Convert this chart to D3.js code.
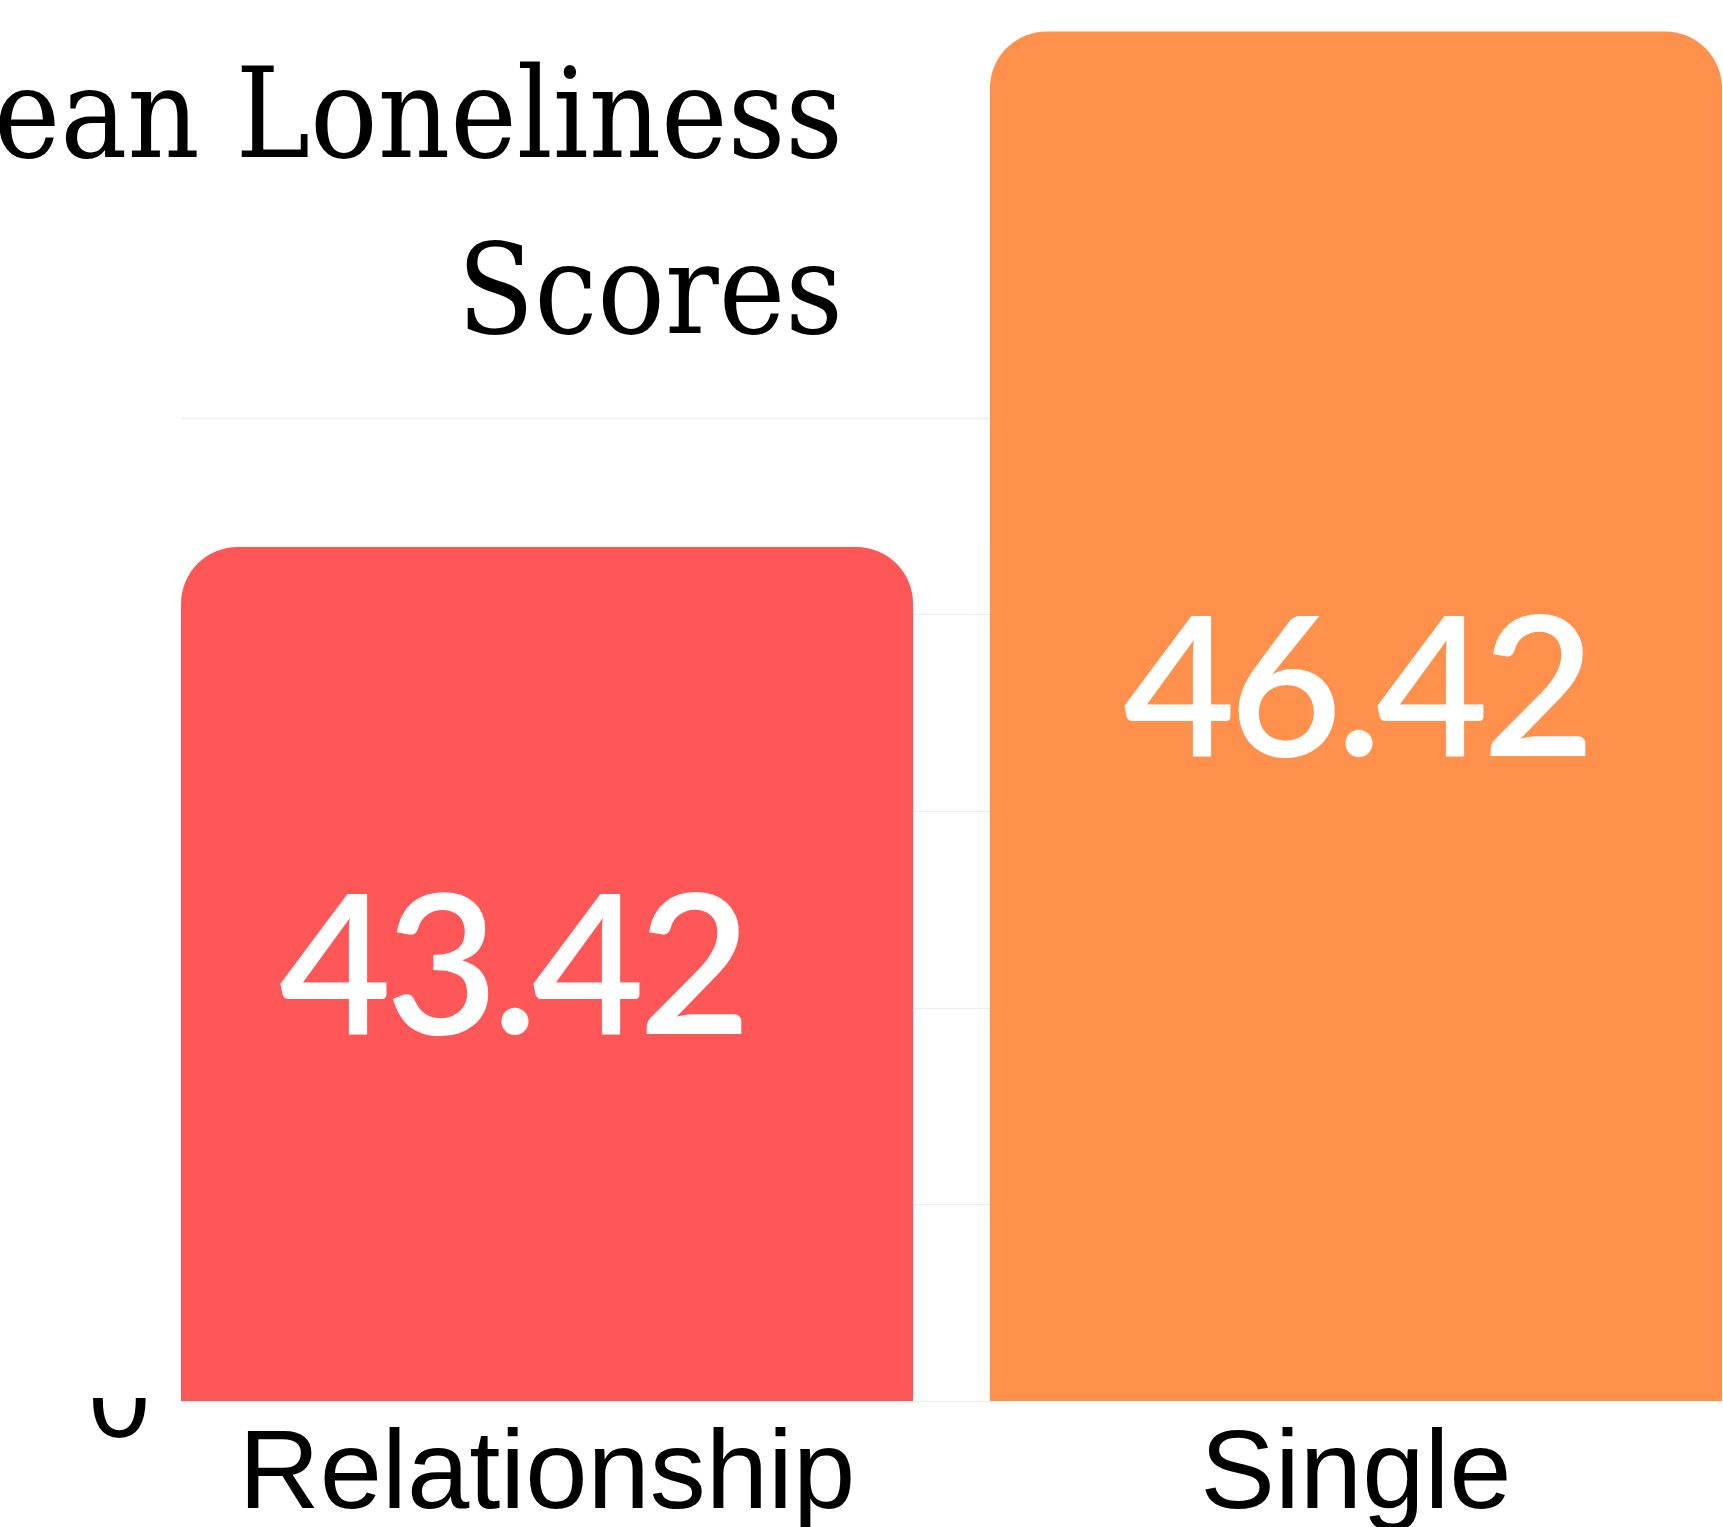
<!DOCTYPE html>
<html>
<head>
<meta charset="utf-8">
<script src="https://cdn.jsdelivr.net/npm/d3@7"></script>
<style>
  html, body { margin: 0; padding: 0; background: #fff; overflow: hidden; }
  svg { display: block; }
</style>
</head>
<body>
<div id="chart"></div>
<script>
// data
var categories = ["Relationship", "Single"];
var scores = [43.42, 46.42];
var barColors = ["#ff5757", "#ff914d"];
var yTicks = [0, 10, 20, 30, 40, 50];
var titleLines = ["Mean Loneliness", "Scores"];

// the "Single" bar is caught in its hover state, grown upward
var highlighted = "Single";
var hoverGrow = 1.5;

var width = 1723,
  height = 1527,
  plotLeft = 181,
  plotRight = 1722,
  baseY = 1401,
  topY = 417.5,
  radius = 57;

// small hand nudges for the value labels (dx, dy from bar middle)
var labelNudge = { Relationship: [-35, 60], Single: [0, 40] };

var svg = d3.select("#chart")
  .append("svg")
  .attr("width", width)
  .attr("height", height);

var x = d3.scaleBand()
  .domain(categories)
  .range([plotLeft, plotRight])
  .paddingInner(0.095)
  .paddingOuter(0);

var y = d3.scaleLinear()
  .domain([0, 50])
  .range([baseY, topY]);

var rows = categories.map(function(c, i) {
  return { cat: c, val: scores[i], color: barColors[i] };
});

// top-rounded bar path
function barPath(x0, w, yTop, yBot, r) {
  r = Math.min(r, w / 2, yBot - yTop);
  return "M" + x0 + "," + yBot +
    "V" + (yTop + r) +
    "A" + r + "," + r + " 0 0 1 " + (x0 + r) + "," + yTop +
    "H" + (x0 + w - r) +
    "A" + r + "," + r + " 0 0 1 " + (x0 + w) + "," + (yTop + r) +
    "V" + yBot + "Z";
}

// y axis, only the tick labels
var yAxis = svg.append("g")
  .attr("transform", "translate(" + plotLeft + ",0)")
  .call(d3.axisLeft(y).tickValues(yTicks).tickSize(0).tickPadding(31));
yAxis.select(".domain").remove();
yAxis.selectAll("text")
  .style("font-family", "'Liberation Sans', Arial, sans-serif")
  .style("font-size", "110px")
  .style("fill", "#000");

// gridlines
svg.append("g")
  .selectAll("line")
  .data(yTicks)
  .enter()
  .append("line")
  .attr("x1", plotLeft)
  .attr("x2", plotRight)
  .attr("y1", function(d) { return Math.round(y(d)) + 0.5; })
  .attr("y2", function(d) { return Math.round(y(d)) + 0.5; })
  .style("stroke", "#eeeeee")
  .style("stroke-width", 1.5);

// bars at their value
svg.append("g")
  .selectAll("path")
  .data(rows)
  .enter()
  .append("path")
  .attr("d", function(d) {
    return barPath(x(d.cat), x.bandwidth(), y(d.val), baseY, radius);
  })
  .style("fill", function(d) { return d.color; });

// hovered bar, grown
var hoverRows = rows.filter(function(d) { return d.cat === highlighted; });
svg.append("g")
  .selectAll("path")
  .data(hoverRows)
  .enter()
  .append("path")
  .attr("d", function(d) {
    return barPath(x(d.cat), x.bandwidth(), y(d.val * hoverGrow), baseY, radius);
  })
  .style("fill", function(d) { return d.color; });

// value labels in the middle of each shown bar
svg.append("g")
  .selectAll("text")
  .data(rows)
  .enter()
  .append("text")
  .attr("x", function(d) { return x(d.cat) + x.bandwidth() / 2 + labelNudge[d.cat][0]; })
  .attr("y", function(d) {
    var v = d.cat === highlighted ? d.val * hoverGrow : d.val;
    return (y(v) + baseY) / 2 + labelNudge[d.cat][1];
  })
  .attr("text-anchor", "middle")
  .style("font-family", "Lato, sans-serif")
  .style("font-weight", 600)
  .style("font-size", "194px")
  .style("letter-spacing", "-6px")
  .style("fill", "#fff")
  .text(function(d) { return d3.format(".2f")(d.val); });

// category labels
svg.append("g")
  .selectAll("text")
  .data(categories)
  .enter()
  .append("text")
  .attr("x", function(d) { return x(d) + x.bandwidth() / 2; })
  .attr("y", 1508)
  .attr("text-anchor", "middle")
  .style("font-family", "'Liberation Sans', Arial, sans-serif")
  .style("font-size", "112px")
  .style("fill", "#000")
  .text(function(d) { return d; });

// title panel covers the left margin (hides the upper tick labels)
svg.append("rect")
  .attr("x", 0)
  .attr("y", 0)
  .attr("width", plotLeft - 1)
  .attr("height", 1398)
  .style("fill", "#fff");

svg.append("g")
  .selectAll("text")
  .data(titleLines)
  .enter()
  .append("text")
  .attr("x", 843)
  .attr("y", function(d, i) { return 157 + i * 176; })
  .attr("text-anchor", "end")
  .style("font-family", "'DejaVu Serif Condensed', 'DejaVu Serif', serif")
  .style("font-stretch", "condensed")
  .style("font-size", "125px")
  .style("fill", "#000")
  .text(function(d) { return d; });
</script>
</body>
</html>
